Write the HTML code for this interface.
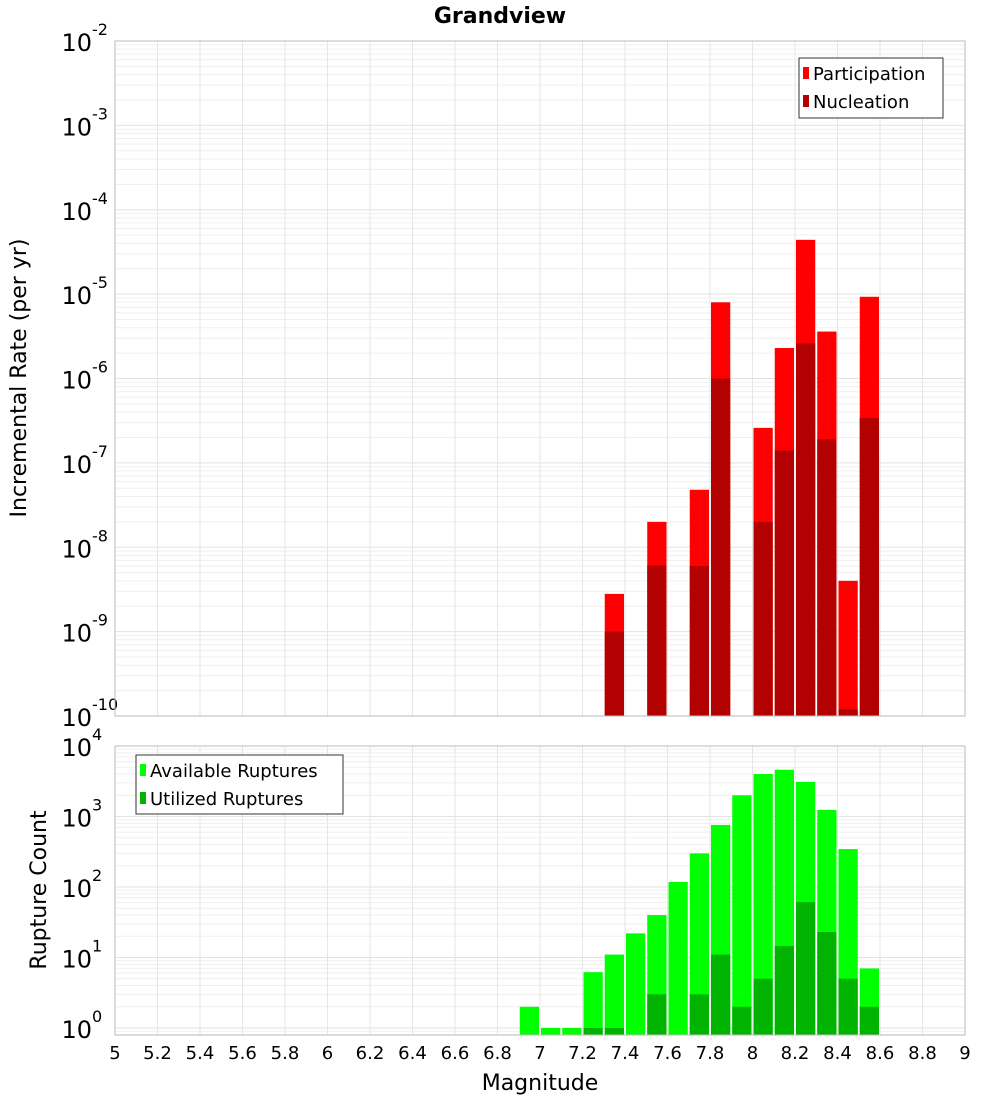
<!DOCTYPE html>
<html><head><meta charset="utf-8"><style>
body{margin:0;background:#fff}
svg text{font-family:"DejaVu Sans","Liberation Sans",sans-serif}
</style></head><body>
<svg id="chart" width="1000" height="1100" xmlns="http://www.w3.org/2000/svg">
<rect width="1000" height="1100" fill="#fff"/>
<text x="500" y="23" text-anchor="middle" font-size="22" font-weight="bold">Grandview</text>
<g id="gtop"></g><g id="gbot"></g><g id="xax"></g>
<text x="540" y="1090" text-anchor="middle" font-size="22">Magnitude</text>
<text transform="translate(26,378) rotate(-90)" text-anchor="middle" font-size="22">Incremental Rate (per yr)</text>
<text transform="translate(46,890) rotate(-90)" text-anchor="middle" font-size="22">Rupture Count</text>
<g font-size="18">
<rect x="799" y="58" width="144" height="60" fill="#fff" stroke="#333"/>
<rect x="803" y="67" width="6" height="12" fill="#ff0000"/><text x="813" y="80">Participation</text>
<rect x="803" y="95" width="6" height="12" fill="#b30000"/><text x="813" y="108">Nucleation</text>
</g>
<g font-size="18">
<rect x="136" y="755" width="207" height="59" fill="#fff" stroke="#333"/>
<rect x="140" y="764" width="6" height="12" fill="#00ff00"/><text x="150" y="777">Available Ruptures</text>
<rect x="140" y="792" width="6" height="12" fill="#00b300"/><text x="150" y="805">Utilized Ruptures</text>
</g>
</svg>
<script>
const topBins=[7.35,7.55,7.75,7.85,8.05,8.15,8.25,8.35,8.45,8.55];
const participation=[2.8e-9,2e-8,4.8e-8,8e-6,2.6e-7,2.3e-6,4.4e-5,3.6e-6,4e-9,9.3e-6];
const nucleation=[1e-9,6.1e-9,6e-9,1e-6,2e-8,1.4e-7,2.6e-6,1.9e-7,1.2e-10,3.4e-7];
const botBins=[6.95,7.05,7.15,7.25,7.35,7.45,7.55,7.65,7.75,7.85,7.95,8.05,8.15,8.25,8.35,8.45,8.55];
const available=[2,1,1,6.2,11,22,40,118,300,760,2000,4000,4600,3100,1240,345,7];
const utilized=[0,0,0,1,1,0,3,0,3,11,2,5,14.5,61,23,5,2];
const xTicks=[5,5.2,5.4,5.6,5.8,6,6.2,6.4,6.6,6.8,7,7.2,7.4,7.6,7.8,8,8.2,8.4,8.6,8.8,9];
const topExps=[-2,-3,-4,-5,-6,-7,-8,-9,-10];
const botExps=[4,3,2,1,0];

const NS="http://www.w3.org/2000/svg";
const X0=115,X1=965;
const xs=v=>X0+(v-5)/4*(X1-X0);
const yTop=v=>41+(-2-Math.log10(v))*84.375;
const yBot=v=>1028-Math.log10(v)*70.5;
function mk(p,t,a){const e=document.createElementNS(NS,t);for(const k in a)e.setAttribute(k,a[k]);p.appendChild(e);return e;}

function panel(g,y0,y1,yf,exps,minExp,maxExp){
  mk(g,'rect',{x:X0,y:y0,width:X1-X0,height:y1-y0,fill:'#fff'});
  for(let e=minExp;e<maxExp;e++)for(let m=1;m<10;m++){const y=yf(m*Math.pow(10,e));if(y<y0||y>y1)continue;
    mk(g,'line',{x1:X0,x2:X1,y1:y,y2:y,stroke:m==1?'#e2e2e2':'#efefef','stroke-width':1});}
  xTicks.forEach(t=>mk(g,'line',{x1:xs(t),x2:xs(t),y1:y0,y2:y1,stroke:'#e6e6e6'}));
  exps.forEach(e=>{const y=yf(Math.pow(10,e));
    const t=mk(g,'text',{x:92,y:y+10,'text-anchor':'end','font-size':24,fill:'#000'});
    
    
    t.textContent='10';
    const s=mk(g,'text',{x:92,y:y-6,'font-size':16});s.textContent=String(e);
  });
}
const gTop=document.getElementById('gtop');
panel(gTop,41,716,yTop,topExps,-10,-2);
topBins.forEach((b,i)=>{
  const x=xs(b-0.05)+1,w=xs(b+0.05)-xs(b-0.05)-2;
  const yp=yTop(participation[i]);
  const r=mk(gTop,'rect',{x:x,y:yp,width:w,height:716-yp,fill:'#ff0000'});
  
  
  const yn=Math.min(716,yTop(nucleation[i]));
  const r2=mk(gTop,'rect',{x:x,y:yn,width:w,height:716-yn,fill:'#b30000'});
  
  
});
mk(gTop,'rect',{x:X0,y:41,width:X1-X0,height:675,fill:'none',stroke:'#bbb'});
const gBot=document.getElementById('gbot');
panel(gBot,746,1035,yBot,botExps,-1,4);
botBins.forEach((b,i)=>{
  const x=xs(b-0.05)+1,w=xs(b+0.05)-xs(b-0.05)-2;
  const ya=yBot(available[i]);
  const r=mk(gBot,'rect',{x:x,y:ya,width:w,height:1035-ya,fill:'#00ff00'});
  
  
  if(utilized[i]>0){const yu=yBot(utilized[i]);
    const r2=mk(gBot,'rect',{x:x,y:yu,width:w,height:1035-yu,fill:'#00b300'});
    
    }
});
mk(gBot,'rect',{x:X0,y:746,width:X1-X0,height:289,fill:'none',stroke:'#bbb'});
const xax=document.getElementById('xax');
xTicks.forEach(t=>{const e=mk(xax,'text',{x:xs(t),y:1059,'text-anchor':'middle','font-size':18});
  
  
  e.textContent=String(t);});
</script>
</body></html>
